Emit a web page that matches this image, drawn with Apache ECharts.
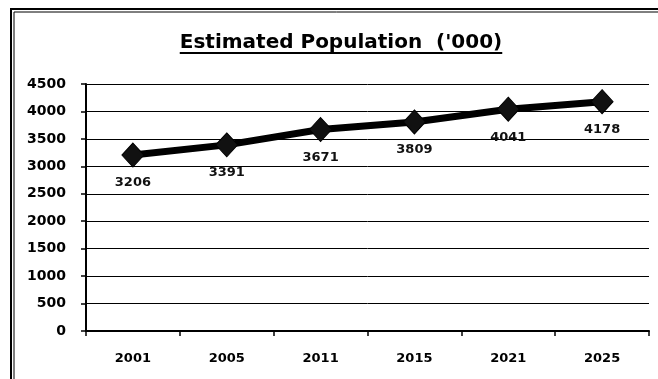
<!DOCTYPE html>
<html>
<head>
<meta charset="utf-8">
<script src="https://cdn.jsdelivr.net/npm/echarts@6/dist/echarts.min.js"></script>
<style>
  html, body { margin: 0; padding: 0; background: #fff; }
  #chart { width: 658px; height: 379px; }
</style>
</head>
<body>
<div id="chart"></div>
<script>
// Census years and estimated population (thousands)
const years = ['2001', '2005', '2011', '2015', '2021', '2025'];
const population = [3206, 3391, 3671, 3809, 4041, 4178];
const yTicks = { min: 0, max: 4500, interval: 500 };
const titleText = "Estimated Population  ('000)";

const FONT = 'DejaVu Sans';
const titleFont = 'bold 20px "' + FONT + '"';

// measure the title so the underline spans exactly the text
const ctx = document.createElement('canvas').getContext('2d');
ctx.font = titleFont;
const titleW = ctx.measureText(titleText).width;
const titleCx = 341, titleCy = 43;

const chart = echarts.init(document.getElementById('chart'), null, { renderer: 'canvas' });

chart.setOption({
  animation: false,
  backgroundColor: '#fff',
  grid: { left: 86, right: 9, top: 84, bottom: 48, containLabel: false },
  xAxis: {
    type: 'category',
    data: years,
    boundaryGap: true,
    axisLine: { lineStyle: { color: '#000', width: 2 } },
    axisTick: { show: true, inside: false, length: 5, lineStyle: { color: '#000', width: 1.5 } },
    axisLabel: { color: '#000', fontFamily: FONT, fontWeight: 'bold', fontSize: 13, margin: 21 },
    splitLine: { show: false }
  },
  yAxis: {
    type: 'value',
    min: yTicks.min, max: yTicks.max, interval: yTicks.interval,
    axisLine: { show: true, lineStyle: { color: '#000', width: 2 } },
    axisTick: { show: true, inside: false, length: 5, lineStyle: { color: '#000', width: 1.5 } },
    axisLabel: {
      color: '#000', fontFamily: FONT, fontWeight: 'bold', fontSize: 14, margin: 20,
      formatter: v => String(v)
    },
    splitLine: { show: true, lineStyle: { color: '#000', width: 1 } }
  },
  series: [{
    type: 'line',
    data: population,
    symbol: 'diamond',
    symbolSize: [22, 24],
    lineStyle: { color: '#000', width: 7 },
    itemStyle: { color: '#111', borderColor: '#000', borderWidth: 1 },
    label: {
      show: true,
      position: 'bottom',
      distance: 9,
      color: '#111',
      fontFamily: FONT,
      fontWeight: 'bold',
      fontSize: 13
    },
    z: 5
  }],
  graphic: [
    // double frame around the chart area
    { type: 'rect', silent: true, shape: { x: 11, y: 9, width: 700, height: 420 },
      style: { fill: 'none', stroke: '#000', lineWidth: 2 } },
    { type: 'rect', silent: true, shape: { x: 14, y: 12, width: 700, height: 420 },
      style: { fill: 'none', stroke: '#000', lineWidth: 1 } },
    // title with underline
    { type: 'text', silent: true, x: titleCx, y: titleCy,
      style: { text: titleText, font: titleFont, fill: '#000', align: 'center', verticalAlign: 'middle' } },
    { type: 'line', silent: true,
      shape: { x1: titleCx - titleW / 2, y1: titleCy + 10, x2: titleCx + titleW / 2, y2: titleCy + 10 },
      style: { stroke: '#000', lineWidth: 2 } }
  ]
});
</script>
</body>
</html>
